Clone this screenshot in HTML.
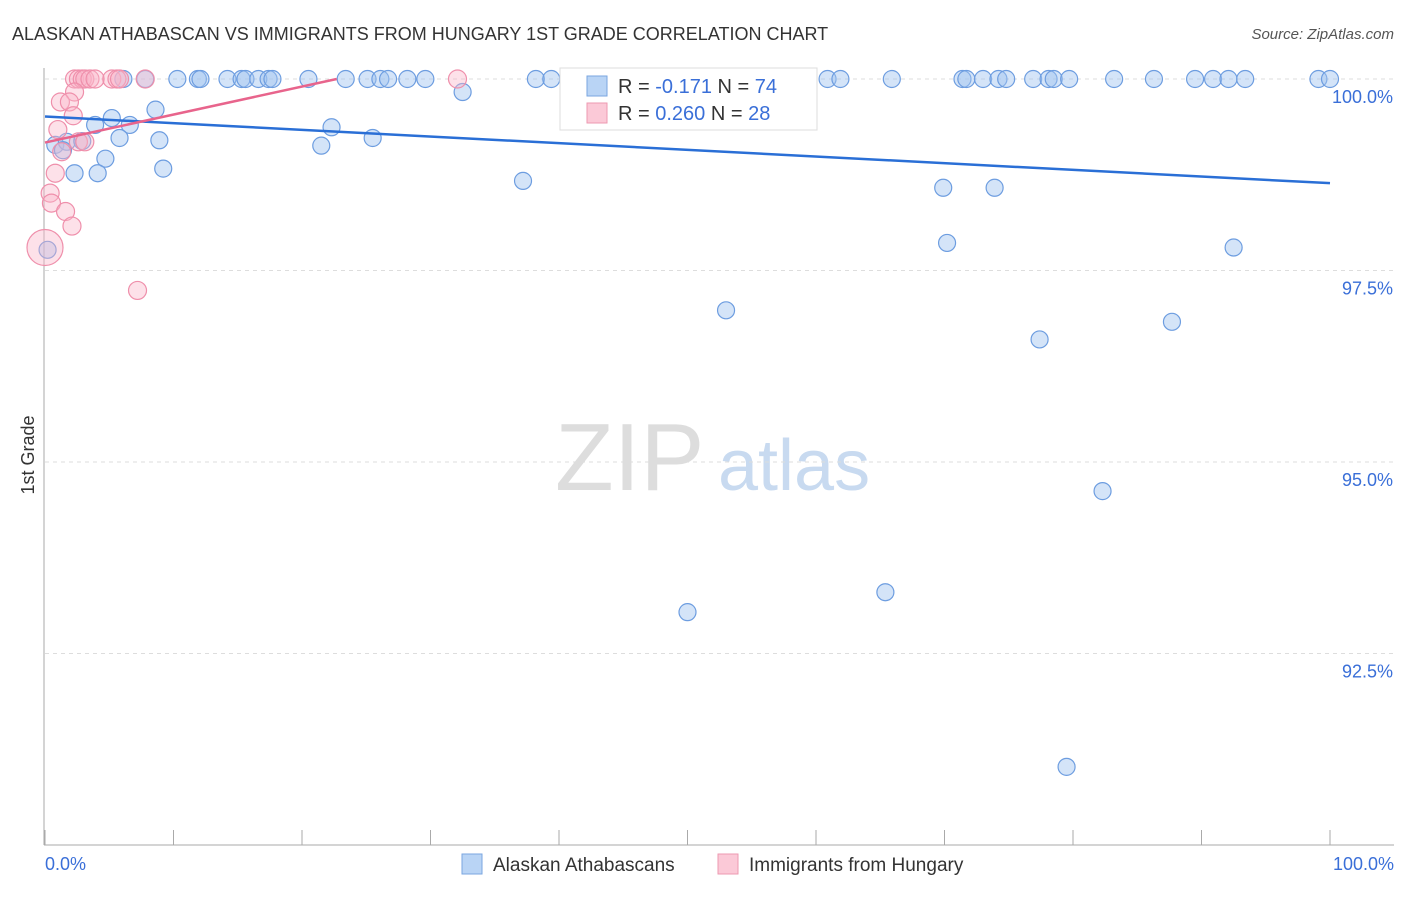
<!DOCTYPE html>
<html><head><meta charset="utf-8"><style>
body{margin:0;background:#fff;font-family:"Liberation Sans",sans-serif;}
svg text{font-family:"Liberation Sans",sans-serif;}
</style></head><body>
<svg id="chart" width="1406" height="892">
<text x="12" y="40" font-size="18" fill="#333">ALASKAN ATHABASCAN VS IMMIGRANTS FROM HUNGARY 1ST GRADE CORRELATION CHART</text>
<text x="1394" y="39" font-size="15" fill="#555" font-style="italic" text-anchor="end">Source: ZipAtlas.com</text>
<text x="34" y="455" font-size="18" fill="#333" transform="rotate(-90 34 455)" text-anchor="middle">1st Grade</text>
<g><text x="555" y="490" font-size="96" fill="#ddd" font-family="Liberation Serif">ZIP</text><text x="718" y="490" font-size="72" fill="#c8daf0">atlas</text></g>
<g id="grid"></g><g id="marks"></g><g id="lines"></g>
<g>
<rect x="560" y="68" width="257" height="62" fill="#fff" stroke="#ddd"/>
<rect x="587" y="76" width="20" height="20" fill="#b9d4f5" stroke="#7aa6e0"/>
<text x="618" y="93" font-size="20" fill="#333">R = <tspan fill="#3a6fd8">-0.171</tspan>   N = <tspan fill="#3a6fd8">74</tspan></text>
<rect x="587" y="103" width="20" height="20" fill="#fbc9d7" stroke="#ee99b1"/>
<text x="618" y="120" font-size="20" fill="#333">R = <tspan fill="#3a6fd8">0.260</tspan>   N = <tspan fill="#3a6fd8">28</tspan></text>
</g>
<g>
<rect x="462" y="854" width="20" height="20" fill="#b9d4f5" stroke="#7aa6e0"/>
<text x="493" y="871" font-size="19" fill="#333">Alaskan Athabascans</text>
<rect x="718" y="854" width="20" height="20" fill="#fbc9d7" stroke="#ee99b1"/>
<text x="749" y="871" font-size="19" fill="#333">Immigrants from Hungary</text>
</g>
</svg>
<script>
const yTicks=[100,97.5,95,92.5];
const yTickLabels=["100.0%","97.5%","95.0%","92.5%"];
const xTickLabels=["0.0%","100.0%"];
const blueX=[6.1,7.8,10.3,11.9,12.1,14.2,15.3,15.6,16.6,17.4,17.7,20.5,23.4,25.1,26.1,26.7,28.2,29.6,38.2,39.4,41.2,57.3,60.9,61.9,65.9,71.4,71.7,73.0,74.2,74.8,76.9,78.1,78.5,79.7,83.2,86.3,89.5,90.9,92.1,93.4,99.1,100,
32.5,8.6,5.2,3.9,6.6,22.3,0.8,1.7,2.9,5.8,8.9,21.5,25.5,1.4,4.7,2.3,4.1,9.2,37.2,69.9,73.9,70.2,92.5,0.2,53,87.7,77.4,82.3,65.4,50,79.5];
const blueY=[100,100,100,100,100,100,100,100,100,100,100,100,100,100,100,100,100,100,100,100,100,100,100,100,100,100,100,100,100,100,100,100,100,100,100,100,100,100,100,100,100,100,
99.83,99.6,99.49,99.4,99.4,99.37,99.14,99.18,99.19,99.23,99.2,99.13,99.23,99.07,98.96,98.77,98.77,98.83,98.67,98.58,98.58,97.86,97.8,97.77,96.98,96.83,96.6,94.62,93.3,93.04,91.02];
const pinkX=[2.3,2.6,2.9,3.1,3.5,3.9,5.2,5.6,5.8,7.8,32.1,2.3,1.2,1.9,2.2,1.0,1.3,2.6,3.1,0.8,0.4,0.5,1.6,2.1,0,7.2];
const pinkY=[100,100,100,100,100,100,100,100,100,100,100,99.83,99.7,99.7,99.52,99.34,99.05,99.18,99.18,98.77,98.51,98.38,98.27,98.08,97.8,97.24];
const pinkR=[9,9,9,9,9,9,9,9,9,9,9,9,9,9,9,9,9,9,9,9,9,9,9,9,18,9];
const blueTrend=[99.51,98.64];
const pinkTrend=[99.17,100,22.7];
const NS="http://www.w3.org/2000/svg";
const X=v=>45+v*12.85, Y=v=>79+(100-v)*76.6;
function mk(t,a,p){const e=document.createElementNS(NS,t);for(const k in a)e.setAttribute(k,a[k]);p.appendChild(e);return e;}
const grid=document.getElementById('grid');
yTicks.forEach((t,i)=>{
 const l=mk('line',{x1:45,x2:1394,y1:Y(t),y2:Y(t),stroke:'#ddd','stroke-dasharray':'4,4'},grid);
 
 
 const tx=mk('text',{x:1393,y:Y(t)+24,'font-size':18,fill:'#3a6fd8','text-anchor':'end'},grid);
 tx.textContent=yTickLabels[i];
 
 
});
mk('line',{x1:44,x2:44,y1:68,y2:845,stroke:'#aaa'},grid);
mk('line',{x1:44,x2:1394,y1:845,y2:845,stroke:'#aaa'},grid);
for(let i=0;i<=10;i++){const t=mk('line',{x1:X(i*10),x2:X(i*10),y1:830,y2:845,stroke:'#aaa'},grid);
 
 }
[[0,'start',45],[1,'end',1394]].forEach(([i,a,x])=>{const t=mk('text',{x:x,y:870,'font-size':18,fill:'#3a6fd8','text-anchor':a},grid);t.textContent=xTickLabels[i];
 
 });
const marks=document.getElementById('marks');
blueX.forEach((x,i)=>{const c=mk('circle',{cx:X(x),cy:Y(blueY[i]),r:8.5,fill:'rgba(160,196,240,0.45)',stroke:'#6d9de0','stroke-width':1.2},marks);
 
 });
pinkX.forEach((x,i)=>{const c=mk('circle',{cx:X(x),cy:Y(pinkY[i]),r:pinkR[i],fill:'rgba(250,180,200,0.4)',stroke:'#ef8fab','stroke-width':1.2},marks);
 
 });
const lines=document.getElementById('lines');
const bl=mk('line',{x1:X(0),y1:Y(blueTrend[0]),x2:X(100),y2:Y(blueTrend[1]),stroke:'#2a6fd6','stroke-width':2.5},lines);


const pl=mk('line',{x1:X(0),y1:Y(pinkTrend[0]),x2:X(pinkTrend[2]),y2:Y(pinkTrend[1]),stroke:'#e8648c','stroke-width':2.5},lines);


</script>
</body></html>
